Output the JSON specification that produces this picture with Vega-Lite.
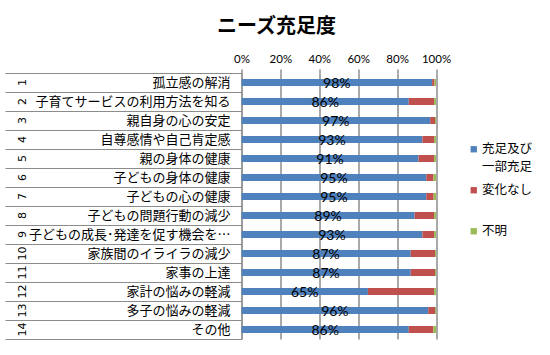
{
  "$schema": "https://vega.github.io/schema/vega-lite/v6.json",
  "width": 194.5,
  "height": 266,
  "autosize": "none",
  "padding": {"left": 241.5, "top": 73, "right": 114, "bottom": 16},
  "background": "white",
  "config": {"view": {"stroke": null}},
  "title": {"text": "ニーズ充足度", "font": "Noto Sans CJK JP", "fontSize": 20, "fontWeight": "bold", "color": "#000", "anchor": "middle", "frame": "bounds", "offset": 16, "dx": 8},
  "data": {"values": [
    {"no": 1, "item": "孤立感の解消", "cat": "充足及び一部充足", "k": 1, "value": 0.98},
    {"no": 1, "item": "孤立感の解消", "cat": "変化なし", "k": 2, "value": 0.012},
    {"no": 1, "item": "孤立感の解消", "cat": "不明", "k": 3, "value": 0.008},
    {"no": 2, "item": "子育てサービスの利用方法を知る", "cat": "充足及び一部充足", "k": 1, "value": 0.86},
    {"no": 2, "item": "子育てサービスの利用方法を知る", "cat": "変化なし", "k": 2, "value": 0.13},
    {"no": 2, "item": "子育てサービスの利用方法を知る", "cat": "不明", "k": 3, "value": 0.01},
    {"no": 3, "item": "親自身の心の安定", "cat": "充足及び一部充足", "k": 1, "value": 0.97},
    {"no": 3, "item": "親自身の心の安定", "cat": "変化なし", "k": 2, "value": 0.025},
    {"no": 3, "item": "親自身の心の安定", "cat": "不明", "k": 3, "value": 0.005},
    {"no": 4, "item": "自尊感情や自己肯定感", "cat": "充足及び一部充足", "k": 1, "value": 0.93},
    {"no": 4, "item": "自尊感情や自己肯定感", "cat": "変化なし", "k": 2, "value": 0.06},
    {"no": 4, "item": "自尊感情や自己肯定感", "cat": "不明", "k": 3, "value": 0.01},
    {"no": 5, "item": "親の身体の健康", "cat": "充足及び一部充足", "k": 1, "value": 0.91},
    {"no": 5, "item": "親の身体の健康", "cat": "変化なし", "k": 2, "value": 0.08},
    {"no": 5, "item": "親の身体の健康", "cat": "不明", "k": 3, "value": 0.01},
    {"no": 6, "item": "子どもの身体の健康", "cat": "充足及び一部充足", "k": 1, "value": 0.95},
    {"no": 6, "item": "子どもの身体の健康", "cat": "変化なし", "k": 2, "value": 0.037},
    {"no": 6, "item": "子どもの身体の健康", "cat": "不明", "k": 3, "value": 0.013},
    {"no": 7, "item": "子どもの心の健康", "cat": "充足及び一部充足", "k": 1, "value": 0.95},
    {"no": 7, "item": "子どもの心の健康", "cat": "変化なし", "k": 2, "value": 0.038},
    {"no": 7, "item": "子どもの心の健康", "cat": "不明", "k": 3, "value": 0.012},
    {"no": 8, "item": "子どもの問題行動の減少", "cat": "充足及び一部充足", "k": 1, "value": 0.89},
    {"no": 8, "item": "子どもの問題行動の減少", "cat": "変化なし", "k": 2, "value": 0.1},
    {"no": 8, "item": "子どもの問題行動の減少", "cat": "不明", "k": 3, "value": 0.01},
    {"no": 9, "item": "子どもの成長･発達を促す機会を…", "cat": "充足及び一部充足", "k": 1, "value": 0.93},
    {"no": 9, "item": "子どもの成長･発達を促す機会を…", "cat": "変化なし", "k": 2, "value": 0.06},
    {"no": 9, "item": "子どもの成長･発達を促す機会を…", "cat": "不明", "k": 3, "value": 0.01},
    {"no": 10, "item": "家族間のイライラの減少", "cat": "充足及び一部充足", "k": 1, "value": 0.87},
    {"no": 10, "item": "家族間のイライラの減少", "cat": "変化なし", "k": 2, "value": 0.125},
    {"no": 10, "item": "家族間のイライラの減少", "cat": "不明", "k": 3, "value": 0.005},
    {"no": 11, "item": "家事の上達", "cat": "充足及び一部充足", "k": 1, "value": 0.87},
    {"no": 11, "item": "家事の上達", "cat": "変化なし", "k": 2, "value": 0.125},
    {"no": 11, "item": "家事の上達", "cat": "不明", "k": 3, "value": 0.005},
    {"no": 12, "item": "家計の悩みの軽減", "cat": "充足及び一部充足", "k": 1, "value": 0.65},
    {"no": 12, "item": "家計の悩みの軽減", "cat": "変化なし", "k": 2, "value": 0.34},
    {"no": 12, "item": "家計の悩みの軽減", "cat": "不明", "k": 3, "value": 0.01},
    {"no": 13, "item": "多子の悩みの軽減", "cat": "充足及び一部充足", "k": 1, "value": 0.96},
    {"no": 13, "item": "多子の悩みの軽減", "cat": "変化なし", "k": 2, "value": 0.035},
    {"no": 13, "item": "多子の悩みの軽減", "cat": "不明", "k": 3, "value": 0.005},
    {"no": 14, "item": "その他", "cat": "充足及び一部充足", "k": 1, "value": 0.86},
    {"no": 14, "item": "その他", "cat": "変化なし", "k": 2, "value": 0.126},
    {"no": 14, "item": "その他", "cat": "不明", "k": 3, "value": 0.014}
  ]},
  "layer": [
    {
      "mark": {"type": "bar", "size": 7},
      "encoding": {
        "y": {
          "field": "item", "type": "nominal",
          "sort": {"field": "no", "op": "min", "order": "ascending"},
          "scale": {"paddingInner": 0, "paddingOuter": 0},
          "axis": {
            "title": null, "labelFont": "Noto Sans CJK JP", "labelFontSize": 13, "labelColor": "#000",
            "labelLimit": 0, "tickBand": "extent", "tickSize": 236.5, "tickColor": "#8c8c8c", "tickWidth": 1,
            "labelPadding": -225, "domainColor": "#8c8c8c", "domainWidth": 1, "grid": false
          }
        },
        "x": {
          "field": "value", "type": "quantitative", "stack": "zero",
          "scale": {"domain": [0, 1], "nice": false},
          "axis": {
            "orient": "top", "title": null, "format": ".0%", "values": [0, 0.2, 0.4, 0.6, 0.8, 1],
            "labelOverlap": false, "labelFlush": false,
            "grid": true, "gridColor": "#8c8c8c", "gridWidth": 1.5, "domain": false,
            "tickSize": 4, "tickColor": "#8c8c8c", "tickWidth": 1.5,
            "labelFont": "Lato", "labelFontSize": 11.5, "labelColor": "#000", "labelPadding": 5
          }
        },
        "order": {"field": "k", "type": "quantitative", "sort": "ascending"},
        "color": {
          "field": "cat", "type": "nominal",
          "scale": {"domain": ["充足及び一部充足", "変化なし", "不明"], "range": ["#4F81BD", "#C0504D", "#9BBB59"]},
          "legend": {
            "title": null, "orient": "none", "legendX": 226, "legendY": 70,
            "symbolType": "square", "symbolSize": 40, "symbolStrokeWidth": 0,
            "labelFont": "Noto Sans CJK JP", "labelFontSize": 12.5, "labelColor": "#000",
            "labelExpr": "datum.label === '充足及び一部充足' ? ['充足及び', '一部充足'] : [datum.label, '']",
            "rowPadding": 10, "labelOffset": 2,
            "encode": {"labels": {"update": {"lineHeight": {"value": 18}}}}
          }
        }
      }
    },
    {
      "transform": [{"filter": "datum.cat === '充足及び一部充足'"}],
      "mark": {"type": "text", "font": "Lato", "fontSize": 14, "color": "#000", "baseline": "middle", "dy": 1},
      "encoding": {
        "y": {
          "field": "item", "type": "nominal",
          "sort": {"field": "no", "op": "min", "order": "ascending"},
          "axis": {
            "title": null, "orient": "left", "offset": 214, "domain": false, "ticks": false, "grid": false,
            "labelAngle": -90, "labelAlign": "center", "labelBaseline": "bottom", "labelPadding": 0,
            "labelExpr": "indexof(domain('y'), datum.value) + 1",
            "labelFont": "DejaVu Sans", "labelFontSize": 11, "labelColor": "#000"
          }
        },
        "x": {"field": "value", "type": "quantitative", "scale": {"domain": [0, 2], "nice": false}, "axis": null},
        "text": {"field": "value", "type": "quantitative", "format": ".0%"}
      }
    }
  ],
  "resolve": {"scale": {"x": "independent"}, "axis": {"y": "independent"}}
}
